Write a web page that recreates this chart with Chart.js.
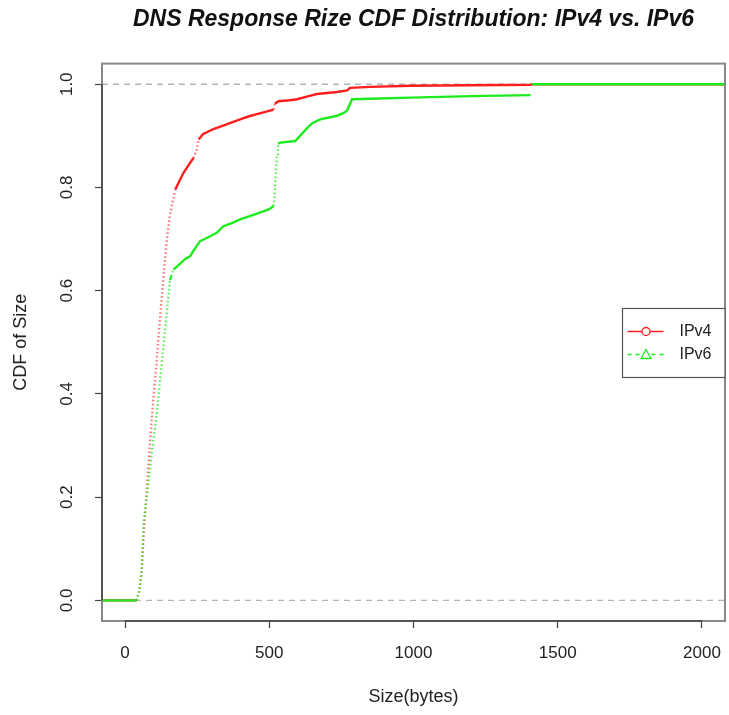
<!DOCTYPE html>
<html>
<head>
<meta charset="utf-8">
<script src="https://cdn.jsdelivr.net/npm/chart.js@4.4.1/dist/chart.umd.min.js"></script>
<style>
html,body{margin:0;padding:0;background:#fff;}
</style>
</head>
<body>
<canvas id="cdfChart" width="729" height="715"></canvas>
<script>
// values
var sizeV4 = [-80, 40, 50, 58, 64, 75, 87, 98, 110, 120, 127, 135, 145, 156, 174, 202, 226, 237, 249, 255, 270, 290, 306, 340, 370, 399, 430, 470, 515, 519, 532, 570, 596, 630, 665, 700, 735, 770, 780, 850, 990, 1200, 1406, 1410, 2080];
var cdfV4  = [0, 0, 0.02, 0.06, 0.123, 0.21, 0.311, 0.39, 0.466, 0.54, 0.583, 0.64, 0.70, 0.748, 0.796, 0.828, 0.848, 0.857, 0.874, 0.893, 0.903, 0.909, 0.913, 0.92, 0.926, 0.932, 0.938, 0.944, 0.951, 0.962, 0.967, 0.969, 0.971, 0.976, 0.981, 0.983, 0.985, 0.988, 0.993, 0.995, 0.997, 0.998, 0.999, 1, 1];

var sizeV6 = [-80, 40, 50, 58, 64, 75, 87, 98, 110, 120, 133, 145, 156, 160, 168, 190, 210, 226, 240, 260, 290, 318, 341, 370, 399, 450, 500, 515, 518, 521, 527, 530, 538, 590, 631, 650, 677, 735, 760, 770, 787, 850, 990, 1200, 1406, 1407, 1410, 2080];
var cdfV6  = [0, 0, 0.02, 0.06, 0.149, 0.2, 0.259, 0.31, 0.362, 0.42, 0.492, 0.56, 0.621, 0.628, 0.641, 0.652, 0.662, 0.667, 0.68, 0.696, 0.704, 0.712, 0.725, 0.731, 0.738, 0.748, 0.758, 0.764, 0.78, 0.816, 0.862, 0.885, 0.887, 0.890, 0.915, 0.925, 0.932, 0.939, 0.945, 0.949, 0.971, 0.972, 0.974, 0.977, 0.979, null, 1, 1];

var xTicks = [0, 500, 1000, 1500, 2000];
var yTicks = [0, 0.2, 0.4, 0.6, 0.8, 1.0];
var refLevels = [0, 1];
var xRange = [-80, 2080];

var RED = "rgb(255,30,30)";
var GREEN = "rgb(30,235,30)";
var FONT = "'Liberation Sans', Arial, sans-serif";

function toPoints(xs, ys){
  var pts = [];
  for(var i = 0; i < xs.length; i++) {
    pts.push({x: xs[i], y: ys[i]});
  }
  return pts;
}

// steep bits of the curve look dotted in the original
function isSteep(ctx){
  var dx = Math.abs(ctx.p1.x - ctx.p0.x);
  var dy = ctx.p0.y - ctx.p1.y;
  return dy > 4 && dy > 2.5*dx;
}
function steepDash(ctx){
  return isSteep(ctx) ? [1.5, 2.5] : undefined;
}
function steepColor(base, pale){
  return function(ctx){ return isSteep(ctx) ? pale : base; };
}

var datasets = [];
datasets.push({
  label: "IPv6",
  data: toPoints(sizeV6, cdfV6),
  borderColor: GREEN,
  borderWidth: 2.4,
  pointRadius: 0,
  showLine: true,
  spanGaps: false,
  order: 0,
  segment: {borderDash: steepDash, borderColor: steepColor(GREEN, "rgba(30,235,30,0.75)")}
});
datasets.push({
  label: "IPv4",
  data: toPoints(sizeV4, cdfV4),
  borderColor: RED,
  borderWidth: 2.4,
  pointRadius: 0,
  showLine: true,
  order: 1,
  segment: {borderDash: steepDash, borderColor: steepColor(RED, "rgba(255,60,60,0.7)")}
});
for(var r = 0; r < refLevels.length; r++) {
  datasets.push({
    label: "ref" + r,
    data: [{x: xRange[0], y: refLevels[r]}, {x: xRange[1], y: refLevels[r]}],
    borderColor: "#b4b4b4",
    borderWidth: 1.3,
    borderDash: [6, 5],
    pointRadius: 0,
    showLine: true,
    order: 5
  });
}

var rPlot = {
  id: "rPlot",
  afterDraw: function(chart){
    var c = chart.ctx;
    var a = chart.chartArea;
    var xs = chart.scales.x;
    var ys = chart.scales.y;
    c.save();
    // box around the plot
    c.strokeStyle = "#888";
    c.lineWidth = 2;
    c.strokeRect(a.left, a.top, a.right - a.left, a.bottom - a.top);
    // axis lines only cover the tick range
    c.strokeStyle = "#555";
    c.beginPath();
    c.moveTo(a.left, ys.getPixelForValue(yTicks[0]));
    c.lineTo(a.left, ys.getPixelForValue(yTicks[yTicks.length-1]));
    c.moveTo(xs.getPixelForValue(xTicks[0]), a.bottom);
    c.lineTo(xs.getPixelForValue(xTicks[xTicks.length-1]), a.bottom);
    c.stroke();
    // rotated y tick labels, R style
    c.fillStyle = "#222";
    c.font = "17px " + FONT;
    c.textAlign = "center";
    c.textBaseline = "middle";
    for(var i = 0; i < yTicks.length; i++) {
      var py = ys.getPixelForValue(yTicks[i]);
      c.save();
      c.translate(a.left - 35, py);
      c.rotate(-Math.PI/2);
      c.fillText(yTicks[i].toFixed(1), 0, 0);
      c.restore();
    }
    // legend
    var lx = 622.5, ly = 308.5, lw = a.right - lx, lh = 69;
    c.fillStyle = "#fff";
    c.fillRect(lx, ly, lw, lh);
    c.strokeStyle = "#555";
    c.lineWidth = 1.2;
    c.strokeRect(lx, ly, lw, lh);
    var rows = [{name: "IPv4", color: RED, dash: [], y: ly + 23},
                {name: "IPv6", color: GREEN, dash: [4, 4], y: ly + 46}];
    for(var k = 0; k < rows.length; k++) {
      var row = rows[k];
      c.strokeStyle = row.color;
      c.lineWidth = 1.3;
      c.setLineDash(row.dash);
      c.beginPath();
      c.moveTo(lx + 5, row.y);
      c.lineTo(lx + 41, row.y);
      c.stroke();
      c.setLineDash([]);
      c.fillStyle = "#fff";
      c.beginPath();
      if(k === 0) {
        c.arc(lx + 23.5, row.y, 4, 0, Math.PI*2);
      } else {
        c.moveTo(lx + 23.5, row.y - 5);
        c.lineTo(lx + 28.5, row.y + 4);
        c.lineTo(lx + 18.5, row.y + 4);
        c.closePath();
      }
      c.fill();
      c.stroke();
      c.fillStyle = "#222";
      c.font = "16px " + FONT;
      c.textAlign = "left";
      c.textBaseline = "middle";
      c.fillText(row.name, lx + 57, row.y);
    }
    c.restore();
  }
};

var ctx = document.getElementById("cdfChart").getContext("2d");
var cdfChart = new Chart(ctx, {
  type: "scatter",
  data: {datasets: datasets},
  options: {
    responsive: false,
    animation: false,
    layout: {padding: {left: 4, right: 4, top: 0, bottom: 0}},
    plugins: {
      legend: {display: false},
      tooltip: {enabled: false},
      title: {
        display: true,
        fullSize: false,
        text: "DNS Response Rize CDF Distribution: IPv4 vs. IPv6",
        color: "#111",
        font: {family: FONT, size: 23, weight: "bold", style: "italic"},
        padding: {top: 6, bottom: 30}
      }
    },
    scales: {
      x: {
        type: "linear",
        min: xRange[0],
        max: xRange[1],
        afterBuildTicks: function(scale){
          scale.ticks = xTicks.map(function(v){ return {value: v}; });
        },
        afterFit: function(scale){
          scale.height = 94;
          scale.paddingLeft = 0;
          scale.paddingRight = 0;
        },
        border: {display: false},
        grid: {drawOnChartArea: false, drawTicks: true, tickLength: 7, tickColor: "#444", tickWidth: 1.2},
        ticks: {color: "#222", font: {family: FONT, size: 17}, padding: 15, maxRotation: 0,
                callback: function(v){ return String(v); }},
        title: {display: true, text: "Size(bytes)", color: "#222",
                font: {family: FONT, size: 18}, padding: {top: 4, bottom: 7}}
      },
      y: {
        type: "linear",
        min: -0.04,
        max: 1.04,
        afterBuildTicks: function(scale){
          scale.ticks = yTicks.map(function(v){ return {value: v}; });
        },
        afterFit: function(scale){
          scale.width = 98;
          scale.paddingTop = 0;
          scale.paddingBottom = 0;
        },
        border: {display: false},
        grid: {drawOnChartArea: false, drawTicks: true, tickLength: 7, tickColor: "#444", tickWidth: 1.2},
        ticks: {display: false},
        title: {display: true, text: "CDF of Size", color: "#222",
                font: {family: FONT, size: 18}, padding: {top: 6, bottom: 4}}
      }
    }
  },
  plugins: [rPlot]
});
</script>
</body>
</html>
